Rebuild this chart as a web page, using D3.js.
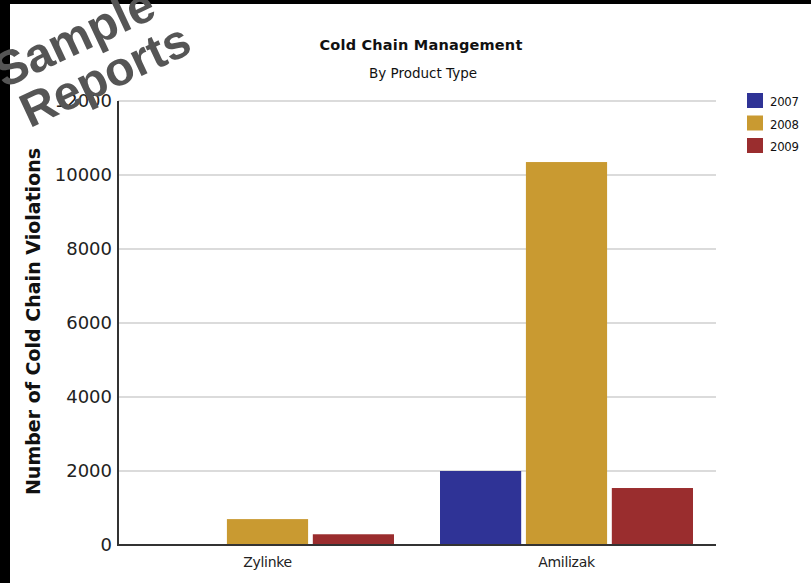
<!DOCTYPE html>
<html><head><meta charset="utf-8">
<script src="https://cdn.jsdelivr.net/npm/d3@7"></script>
<style>html,body{margin:0;padding:0;background:#000;}svg{display:block;}</style>
</head><body>
<script>
const categories = ["Zylinke", "Amilizak"];
const seriesNames = ["2007", "2008", "2009"];
const values2007 = [0, 2000];
const values2008 = [700, 10350];
const values2009 = [290, 1540];
const yTicks = [0, 2000, 4000, 6000, 8000, 10000, 12000];
const colors = ["#2f3396", "#c99a31", "#9a2d2e"];

const W = 811, H = 583;
const svg = d3.select("body").append("svg").attr("width", W).attr("height", H);
svg.append("rect").attr("x", 0).attr("y", 0).attr("width", W).attr("height", H).attr("fill", "#000");
svg.append("rect").attr("x", 10).attr("y", 4).attr("width", W - 10).attr("height", H - 4).attr("fill", "#fff");

const pLeft = 118, pRight = 716, pTop = 101, pBottom = 545;
const x0 = d3.scaleBand().domain(categories).range([pLeft, pRight]).padding(0);
const x1 = d3.scaleBand().domain(seriesNames).range([23, x0.bandwidth() - 23]).paddingInner(0.055);
const y = d3.scaleLinear().domain([0, 12000]).range([pBottom, pTop]);

// grid
svg.append("g").selectAll("line").data(yTicks.filter(d => d > 0)).join("line")
  .attr("x1", pLeft).attr("x2", pRight).attr("y1", d => y(d)).attr("y2", d => y(d))
  .attr("stroke", "#cfcfcf").attr("stroke-width", 1.5);

// bars
const rows = categories.map((c, i) => ({cat: c, vals: [values2007[i], values2008[i], values2009[i]]}));
const g = svg.append("g").selectAll("g").data(rows).join("g")
  .attr("transform", d => `translate(${x0(d.cat)},0)`);
g.selectAll("rect").data(d => d.vals.map((v, j) => ({s: seriesNames[j], v, j}))).join("rect")
  .attr("x", d => x1(d.s)).attr("width", x1.bandwidth())
  .attr("y", d => y(d.v)).attr("height", d => y(0) - y(d.v))
  .attr("fill", d => colors[d.j]);

// axes
const yAxis = d3.axisLeft(y).tickValues(yTicks).tickSize(0).tickPadding(6).tickFormat(d3.format("d"));
const ya = svg.append("g").attr("transform", `translate(${pLeft},0)`).call(yAxis);
ya.select(".domain").remove();
ya.selectAll("text").attr("font-family", "DejaVu Sans").attr("font-size", 18).attr("fill", "#222");

const xAxis = d3.axisBottom(x0).tickSize(0).tickPadding(12);
const xa = svg.append("g").attr("transform", `translate(0,${pBottom})`).call(xAxis);
xa.select(".domain").remove();
xa.selectAll("text").attr("font-family", "DejaVu Sans").attr("font-size", 14).attr("letter-spacing", -0.3).attr("fill", "#222");

svg.append("line").attr("x1", pLeft).attr("x2", pLeft).attr("y1", pTop).attr("y2", pBottom + 1)
  .attr("stroke", "#333").attr("stroke-width", 2);
svg.append("line").attr("x1", pLeft).attr("x2", pRight).attr("y1", pBottom).attr("y2", pBottom)
  .attr("stroke", "#333").attr("stroke-width", 2);

// titles
svg.append("text").attr("x", 421).attr("y", 50).attr("text-anchor", "middle")
  .attr("font-family", "DejaVu Sans").attr("font-weight", "bold").attr("font-size", 14.5)
  .attr("letter-spacing", 0.2).attr("fill", "#111").text("Cold Chain Management");
svg.append("text").attr("x", 423).attr("y", 78).attr("text-anchor", "middle")
  .attr("font-family", "DejaVu Sans").attr("font-size", 13.5)
  .attr("fill", "#111").text("By Product Type");

svg.append("text").attr("transform", `translate(40,${(148 + 495) / 2}) rotate(-90)`).attr("text-anchor", "middle")
  .attr("font-family", "DejaVu Sans").attr("font-weight", "bold").attr("font-size", 19)
  .attr("fill", "#111").text("Number of Cold Chain Violations");

// legend
const lg = svg.append("g").attr("transform", "translate(747,93)");
const li = lg.selectAll("g").data(seriesNames).join("g").attr("transform", (d, i) => `translate(0,${i * 22.5})`);
li.append("rect").attr("width", 16).attr("height", 15).attr("fill", (d, i) => colors[i]);
li.append("text").attr("x", 23).attr("y", 13).attr("font-family", "DejaVu Sans Condensed, DejaVu Sans")
  .attr("font-size", 13).attr("letter-spacing", -0.3).attr("fill", "#111").text(d => d);

// watermark
const wm = svg.append("g").attr("transform", "translate(112,90) rotate(-25)");
wm.append("text").attr("x", -12).attr("y", -47).attr("text-anchor", "middle")
  .attr("font-family", "Liberation Sans").attr("font-weight", "bold").attr("font-size", 48)
  .attr("fill", "#555").text("Sample");
wm.append("text").attr("x", 0).attr("y", 0).attr("text-anchor", "middle")
  .attr("font-family", "Liberation Sans").attr("font-weight", "bold").attr("font-size", 48)
  .attr("fill", "#555").text("Reports");
</script>
</body></html>
